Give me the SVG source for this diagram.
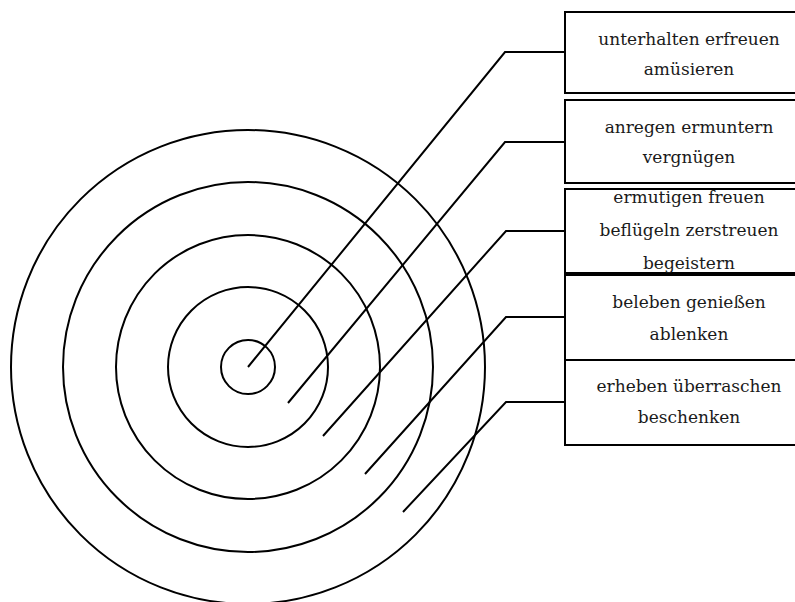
<svg xmlns="http://www.w3.org/2000/svg" width="795" height="602" viewBox="0 0 795 602">
  <style>
    .ring { fill: none; stroke: #000; stroke-width: 2; }
    .box { fill: #fff; stroke: #000; stroke-width: 2; }
    .conn { fill: none; stroke: #000; stroke-width: 2; stroke-linejoin: miter; }
    .lbl { font-family: "DejaVu Serif", "Liberation Serif", serif; font-size: 17px; fill: #1a1a1a; text-anchor: middle; }
  </style>
  <rect x="0" y="0" width="795" height="602" fill="#fff"/>

  <!-- concentric target rings -->
  <g id="target">
    <circle class="ring" cx="248" cy="367" r="237"/>
    <circle class="ring" cx="248" cy="367" r="185"/>
    <circle class="ring" cx="248" cy="367" r="132"/>
    <circle class="ring" cx="248" cy="367" r="80"/>
    <circle class="ring" cx="248" cy="367" r="27"/>
  </g>

  <!-- leader lines from each ring to its label box -->
  <g id="connectors">
    <polyline class="conn" points="248,367 505,52 566,52"/>
    <polyline class="conn" points="288,403 505,142 566,142"/>
    <polyline class="conn" points="323,436 506,231 566,231"/>
    <polyline class="conn" points="365,474 506,317 566,317"/>
    <polyline class="conn" points="403,512 506,402 566,402"/>
  </g>

  <g id="box1">
    <rect class="box" x="565" y="12" width="260" height="81"/>
    <text class="lbl" x="689" y="45">unterhalten erfreuen</text>
    <text class="lbl" x="689" y="75">amüsieren</text>
  </g>

  <g id="box2">
    <rect class="box" x="565" y="100" width="260" height="83"/>
    <text class="lbl" x="689" y="133">anregen ermuntern</text>
    <text class="lbl" x="689" y="163">vergnügen</text>
  </g>

  <g id="box3">
    <rect class="box" x="565" y="189" width="260" height="84"/>
    <text class="lbl" x="689" y="203">ermutigen freuen</text>
    <text class="lbl" x="689" y="236">beflügeln zerstreuen</text>
    <text class="lbl" x="689" y="269">begeistern</text>
  </g>

  <g id="box4">
    <rect class="box" x="565" y="275" width="260" height="85"/>
    <text class="lbl" x="689" y="308">beleben genießen</text>
    <text class="lbl" x="689" y="340">ablenken</text>
  </g>

  <g id="box5">
    <rect class="box" x="565" y="360" width="260" height="85"/>
    <text class="lbl" x="689" y="392">erheben überraschen</text>
    <text class="lbl" x="689" y="423">beschenken</text>
  </g>
</svg>
